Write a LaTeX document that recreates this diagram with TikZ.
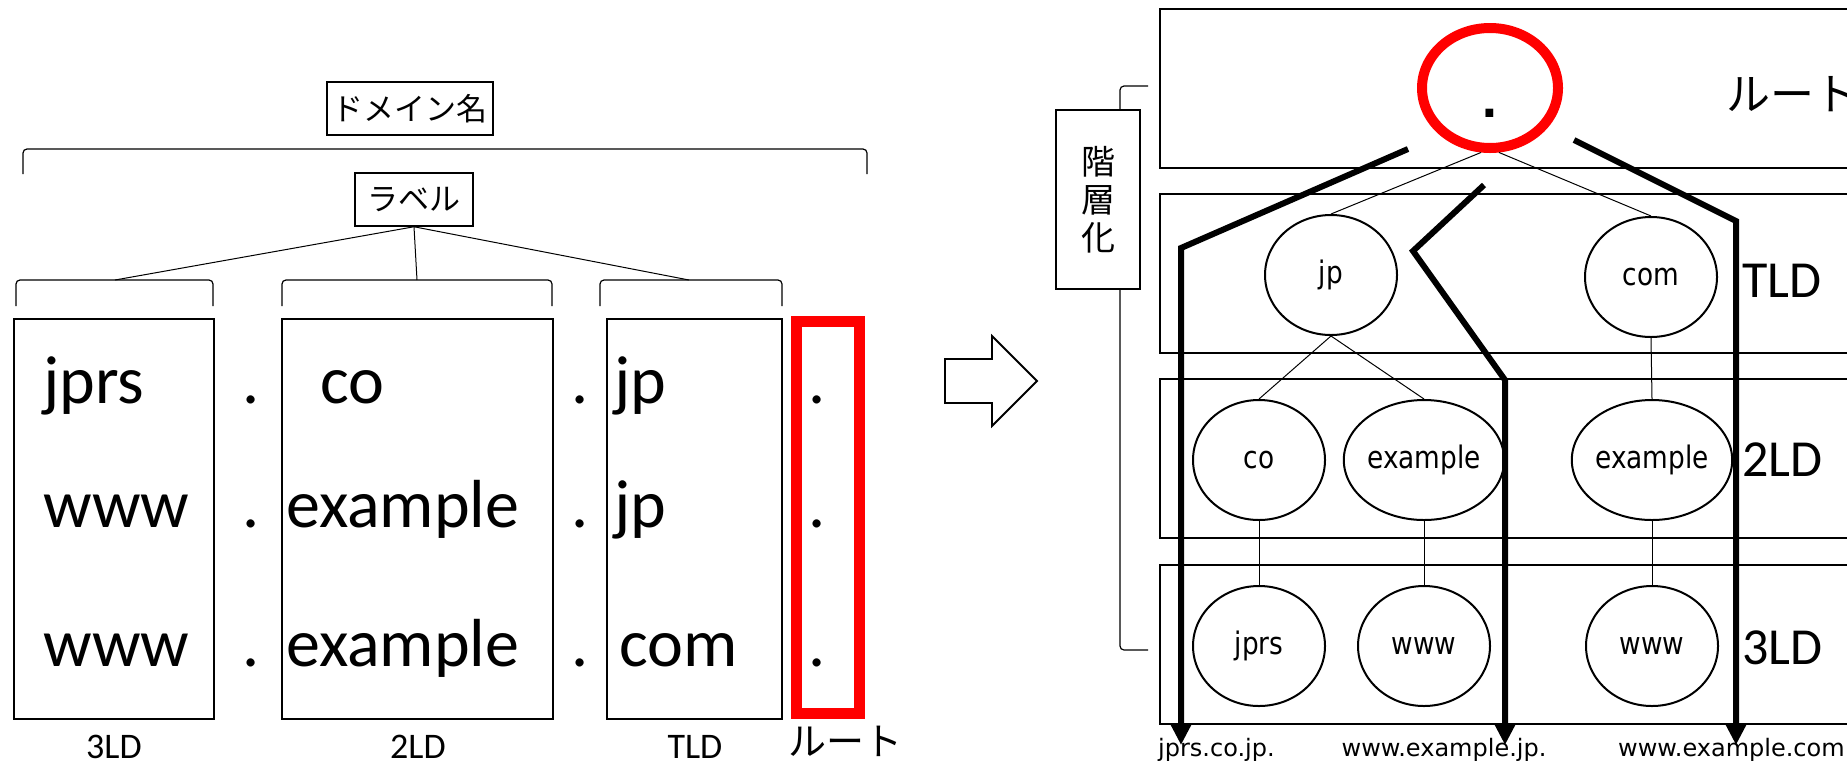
\documentclass[tikz,border=0pt]{standalone}
\usepackage{fontspec}
\setmainfont{Carlito}
\newfontfamily\jpf{Noto Sans CJK JP}
\newfontfamily\dvf{DejaVu Sans}
\newfontfamily\dvn[FakeStretch=0.85]{DejaVu Sans}
\usetikzlibrary{shapes.geometric,arrows.meta}
\newcommand{\fsz}[2]{\fontsize{#1}{#2}\selectfont}
\begin{document}
\begin{tikzpicture}[x=1pt,y=-1pt,
  lbox/.style={draw,line width=1.5pt,inner sep=0,font=\jpf\fsz{31}{36}},
  colbox/.style={draw,line width=2.5pt,minimum height=400pt,inner sep=0},
  big/.style={font=\fsz{68}{80},inner sep=0,anchor=base west},
  dotl/.style={font=\fsz{68}{80},inner sep=0,anchor=base},
  blab/.style={font=\fsz{36}{40},inner sep=0,anchor=base},
  brk/.style={line width=1.2pt,rounded corners=4pt},
  thin/.style={line width=1pt},
  layerbox/.style={line width=2.5pt},
  ell/.style={ellipse,draw,line width=2pt,minimum width=132pt,minimum height=120pt,inner sep=0,font=\dvn\fsz{31}{34}},
  route/.style={line width=6pt,line join=miter,-{Triangle[length=20pt,width=19pt]}},
  llab/.style={font=\fsz{52}{56},inner sep=0,anchor=west},
  url/.style={font=\dvf\fsz{24}{28},inner sep=0}
]
\useasboundingbox (0,0) rectangle (1847,764);
\clip (0,0) rectangle (1847,764);

% ---------- left part ----------
\node[lbox,minimum width=166pt,minimum height=53pt] (dm) at (410,108.5) {ドメイン名};
\draw[brk] (23,174) |- (867,149) -- (867,174);
\node[lbox,minimum width=118pt,minimum height=53pt] (lab) at (414,199.5) {ラベル};

\draw[brk] (16,306) |- (213,280) -- (213,306);
\draw[brk] (282,306) |- (552,280) -- (552,306);
\draw[brk] (600,306) |- (782,280) -- (782,306);
\coordinate (b1) at (115,280);
\coordinate (b2) at (417,280);
\coordinate (b3) at (689,280);
\draw[thin] (lab.south) -- (b1);
\draw[thin] (lab.south) -- (b2);
\draw[thin] (lab.south) -- (b3);

\node[colbox,minimum width=200pt] (c3) at (114,519) {};
\node[colbox,minimum width=271pt] (c2) at (417.5,519) {};
\node[colbox,minimum width=175pt] (c1) at (694.5,519) {};
\draw[red,line width=11pt] (796.5,321.5) rectangle (859.5,713.5);

\node[big] (t11) at (43,403) {jprs};
\node[big] (t12) at (43,527) {www};
\node[big] (t13) at (43,666) {www};
\node[big] (t21) at (320,403) {co};
\node[big] (t22) at (286,527) {example};
\node[big] (t23) at (286,666) {example};
\node[big] (t31) at (614,403) {jp};
\node[big] (t32) at (614,527) {jp};
\node[big] (t33) at (619,666) {com};
\foreach \y in {403,527,666}{
  \node[dotl] at (251,\y) {.};
  \node[dotl] at (580,\y) {.};
  \node[dotl] at (817,\y) {.};
}
\node[blab] (l3) at (114,758) {3LD};
\node[blab] (l2) at (418,758) {2LD};
\node[blab] (l1) at (695,758) {TLD};
\node[blab,font=\jpf\fsz{38}{40}] (l0) at (845,755) {ルート};

% block arrow
\draw[line width=1.8pt,fill=white] (945,359) -- (992,359) -- (992,336) -- (1037,381) -- (992,426) -- (992,403) -- (945,403) -- cycle;

% ---------- right part ----------
\draw[layerbox] (1160,9) rectangle (1880,168);
\draw[layerbox] (1160,194) rectangle (1880,353);
\draw[layerbox] (1160,379) rectangle (1880,538);
\draw[layerbox] (1160,565) rectangle (1880,724);

\node[draw,line width=1.5pt,minimum width=84pt,minimum height=179pt,inner sep=0,align=center,font=\jpf\fsz{34}{38}] (hier) at (1098,199.5) {階\\層\\化};
\draw[brk] (1120,110) |- (1148,86);
\draw[brk] (1120,289) |- (1148,650);

\node[ellipse,draw=red,line width=10pt,minimum width=136pt,minimum height=120pt,inner sep=0] (root) at (1490,88) {};
\node[font=\dvf\bfseries\fsz{44}{48},inner sep=0,anchor=base] (rdot) at (1490,117) {.};

\node[ell] (jp) at (1331,275) {jp};
\node[ell] (com) at (1651,277) {com};
\node[ell] (co) at (1259,460) {co};
\node[ell] (ex1) at (1424,460) {example};
\node[ell] (ex2) at (1652,460) {example};
\node[ell] (jprs) at (1259,646) {jprs};
\node[ell] (www1) at (1424,646) {www};
\node[ell] (www2) at (1652,646) {www};

\draw[thin] (root.-98) -- (jp.north);
\draw[thin] (root.-82) -- (com.north);
\draw[thin] (jp.south) -- (co.north);
\draw[thin] (jp.south) -- (ex1.north);
\draw[thin] (com.south) -- (ex2.north);
\draw[thin] (co.south) -- (jprs.north);
\draw[thin] (ex1.south) -- (www1.north);
\draw[thin] (ex2.south) -- (www2.north);

\node[llab,font=\jpf\fsz{44}{48}] (rootlab) at (1726,94) {ルート};
\node[llab] (tld) at (1742,281) {TLD};
\node[llab] (sld) at (1742,460) {2LD};
\node[llab] (thld) at (1742,648) {3LD};

\coordinate (r1a) at (1408,149);
\coordinate (r1b) at (1181,248);
\coordinate (r1c) at (1181,745);
\coordinate (r2a) at (1484,185);
\coordinate (r2b) at (1413,251);
\coordinate (r2c) at (1505,380);
\coordinate (r2d) at (1505,745);
\coordinate (r3a) at (1574,140);
\coordinate (r3b) at (1736,221);
\coordinate (r3c) at (1736,745);
\draw[route] (r1a) -- (r1b) -- (r1c);
\draw[route] (r2a) -- (r2b) -- (r2c) -- (r2d);
\draw[route] (r3a) -- (r3b) -- (r3c);

\node[url,anchor=base west] (u1) at (1158,756) {jprs.co.jp.};
\node[url,anchor=base] (u2) at (1444,756) {www.example.jp.};
\node[url,anchor=base west] (u3) at (1618,756) {www.example.com.};
\end{tikzpicture}
\end{document}
